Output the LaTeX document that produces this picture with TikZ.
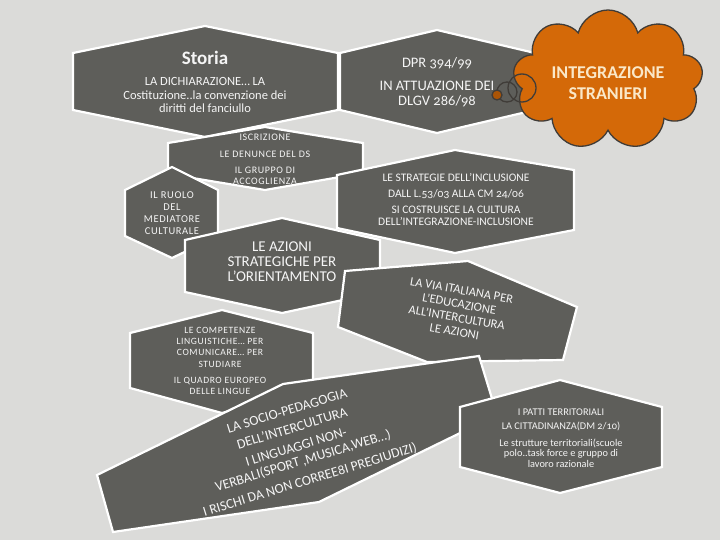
\documentclass[tikz,border=0pt]{standalone}
\usepackage{fontspec}
\setmainfont{Carlito}[Numbers=OldStyle]
\newfontfamily\spaced{Carlito}[LetterSpace=6,Numbers=OldStyle]
\usetikzlibrary{shapes.symbols}
\definecolor{bg}{RGB}{219,219,217}
\definecolor{hexfill}{RGB}{94,94,90}
\definecolor{cloudfill}{RGB}{212,105,8}
\definecolor{cloudline}{RGB}{64,60,56}
\definecolor{cloudtext}{RGB}{250,232,200}
\definecolor{txtwhite}{RGB}{245,245,245}
\begin{document}
\begin{tikzpicture}[x=1pt,y=1pt,
  hexbox/.style={fill=hexfill, draw=white, line width=2.2pt, line join=miter},
  lbl/.style={text=txtwhite, align=center, inner sep=0pt},
  ring/.style={draw=cloudline, line width=1.3pt}
]
\fill[bg] (0,0) rectangle (720,-540);
\useasboundingbox (0,0) rectangle (720,-540);

% Storia
\path[hexbox] (73,-53) -- (205,-26) -- (338,-53) -- (338,-110) -- (205,-137) -- (73,-110) -- cycle;
\node[lbl, font=\bfseries\fontsize{19}{19}\selectfont] (storia) at (205,-58) {Storia};
\node[lbl, font=\fontsize{12.5}{13.5}\selectfont] (storiatxt) at (205,-95) {LA DICHIARAZIONE… LA\\Costituzione..la convenzione dei\\diritti del fanciullo};

% DPR
\path[hexbox] (340,-53) -- (437,-30) -- (535,-53) -- (535,-110) -- (437,-133) -- (340,-110) -- cycle;
\node[lbl, font=\fontsize{14.5}{14.5}\selectfont] (dpr) at (437,-63) {DPR 394/99};
\node[lbl, font=\fontsize{14.5}{15}\selectfont] (dprtxt) at (437,-94) {IN ATTUAZIONE DEI\\DLGV 286/98};

% Iscrizione
\path[hexbox] (168,-143) -- (265,-127) -- (363,-143) -- (363,-173) -- (265,-190) -- (168,-174) -- cycle;
\node[lbl, font=\spaced\fontsize{10}{10.5}\selectfont] (iscr) at (265,-137) {ISCRIZIONE};
\node[lbl, font=\spaced\fontsize{10}{10.5}\selectfont] (denunce) at (265,-154) {LE DENUNCE DEL DS};
\node[lbl, font=\spaced\fontsize{10}{10.5}\selectfont] (gruppo) at (265,-176) {IL GRUPPO DI\\ACCOGLIENZA};

% Ruolo
\path[hexbox] (125,-190) -- (172,-167) -- (218,-190) -- (218,-236) -- (172,-258) -- (125,-236) -- cycle;
\node[lbl, font=\spaced\fontsize{10.5}{12}\selectfont] (ruolo) at (172,-213) {IL RUOLO\\DEL\\MEDIATORE\\CULTURALE};

% Strategie
\path[hexbox] (337,-175) -- (455,-150) -- (574,-170) -- (574,-230) -- (455,-253) -- (337,-228) -- cycle;
\node[lbl, font=\fontsize{11.5}{12.5}\selectfont] (strat) at (456,-177) {LE STRATEGIE DELL'INCLUSIONE};
\node[lbl, font=\fontsize{11.5}{12.5}\selectfont] (dall) at (456,-194) {DALL L.53/03 ALLA CM 24/06};
\node[lbl, font=\fontsize{11.5}{12.5}\selectfont] (cultura) at (456,-216) {SI COSTRUISCE LA CULTURA\\DELL'INTEGRAZIONE-INCLUSIONE};

% Cloud
\node[cloud, cloud puffs=9, aspect=1.35, minimum width=190pt, minimum height=140pt,
      fill=cloudfill, draw=cloudline, line width=1.3pt] (cloud) at (608,-80) {};
\node[text=cloudtext, align=center, inner sep=0pt, font=\bfseries\fontsize{18}{21}\selectfont] (integr) at (608,-83) {INTEGRAZIONE\\STRANIERI};
\path[ring] (522,-88) circle (14);
\path[ring] (507,-92) circle (10);
\path[ring, fill=cloudfill!80!black] (497,-95) circle (5);

% Azioni
\path[hexbox] (185,-240) -- (282,-218) -- (380,-240) -- (380,-292) -- (282,-313) -- (185,-292) -- cycle;
\node[lbl, font=\fontsize{15}{15}\selectfont] (azioni) at (282,-262) {LE AZIONI\\STRATEGICHE PER\\L'ORIENTAMENTO};

% La via italiana
\path[hexbox] (345,-271) -- (468,-261) -- (577,-307) -- (563,-360) -- (427,-362) -- (338,-327) -- cycle;
\node[lbl, rotate=-10, font=\fontsize{12.5}{14}\selectfont] (via) at (458,-311) {LA VIA ITALIANA PER\\L'EDUCAZIONE\\ALL'INTERCULTURA\\LE AZIONI};

% Competenze
\path[hexbox] (130,-333) -- (222,-310) -- (313,-333) -- (313,-388) -- (222,-413) -- (130,-388) -- cycle;
\node[lbl, font=\spaced\fontsize{9.6}{11.3}\selectfont] (comp) at (220,-347) {LE COMPETENZE\\LINGUISTICHE… PER\\COMUNICARE… PER\\STUDIARE};
\node[lbl, font=\spaced\fontsize{9.6}{11.5}\selectfont] (quadro) at (220,-386) {IL QUADRO EUROPEO\\DELLE LINGUE};

% Socio-pedagogia
\path[hexbox] (97,-475) -- (283,-384) -- (479,-356) -- (497,-415) -- (319,-502) -- (113,-532) -- cycle;
\node[lbl, rotate=17, font=\fontsize{13.8}{13.8}\selectfont] (socio) at (287,-411) {LA SOCIO-PEDAGOGIA};
\node[lbl, rotate=17, font=\fontsize{13.8}{13.8}\selectfont] (intercult) at (292,-428) {DELL'INTERCULTURA};
\node[lbl, rotate=17, font=\fontsize{13.8}{13.8}\selectfont] (linguaggi) at (296,-447) {I LINGUAGGI NON-};
\node[lbl, rotate=17, font=\fontsize{13.8}{13.8}\selectfont] (verbali) at (303,-461) {VERBALI(SPORT ,MUSICA,WEB…)};
\node[lbl, rotate=17, font=\fontsize{13.8}{13.8}\selectfont] (rischi) at (310,-480) {I RISCHI DA NON CORREE8I PREGIUDIZI)};

% Patti
\path[hexbox] (460,-407) -- (560,-380) -- (662,-407) -- (662,-467) -- (560,-493) -- (460,-467) -- cycle;
\node[lbl, font=\fontsize{10.3}{10.5}\selectfont] (patti) at (561,-412) {I PATTI TERRITORIALI};
\node[lbl, font=\fontsize{10.3}{10.5}\selectfont] (citt) at (561,-426) {LA CITTADINANZA(DM 2/10)};
\node[lbl, font=\fontsize{10.3}{10.5}\selectfont] (strutt) at (561,-453) {Le strutture territoriali(scuole\\polo..task force e gruppo di\\lavoro razionale};
\end{tikzpicture}
\end{document}
